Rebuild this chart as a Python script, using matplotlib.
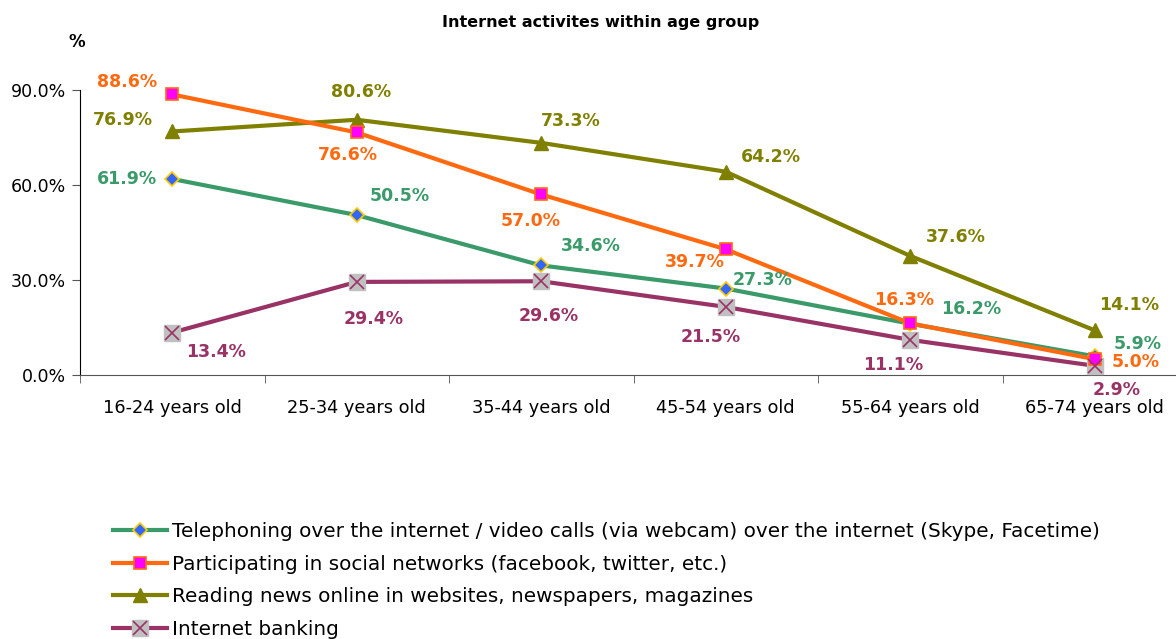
import matplotlib.pyplot as plt
import matplotlib.lines as mlines
import numpy as np

plt.rcParams['font.family'] = ['DejaVu Sans']

ages = ['16-24 years old', '25-34 years old', '35-44 years old',
        '45-54 years old', '55-64 years old', '65-74 years old']
calls = [61.9, 50.5, 34.6, 27.3, 16.2, 5.9]
social = [88.6, 76.6, 57.0, 39.7, 16.3, 5.0]
news = [76.9, 80.6, 73.3, 64.2, 37.6, 14.1]
banking = [13.4, 29.4, 29.6, 21.5, 11.1, 2.9]
names = ['Telephoning over the internet / video calls (via webcam) over the internet (Skype, Facetime)',
         'Participating in social networks (facebook, twitter, etc.)',
         'Reading news online in websites, newspapers, magazines',
         'Internet banking']

# label offsets in pixels (dx, dy) for each point
off_calls = [(-45, 0), (43, 19), (50, 19), (37, 9), (61, 15), (43, 12)]
off_social = [(-45, 12), (-9, -23), (-11, -26), (-31, -13), (-6, 23), (41, -3)]
off_news = [(-49, 11), (4, 28), (30, 22), (45, 15), (46, 19), (34, 25)]
off_bank = [(44, -19), (17, -37), (7, -35), (-15, -30), (-17, -25), (22, -24)]

fig = plt.figure(figsize=(11.76, 6.39), dpi=100)
ax = fig.add_axes([80 / 1176, 1 - 375 / 639, 1107 / 1176, 285 / 639])
x = np.arange(len(ages))

green = '#3a9a6a'
orange = '#ff6a10'
olive = '#808000'
maroon = '#993366'

l1, = ax.plot(x, calls, color=green, lw=3, marker='D', ms=7,
              mfc='#3366ff', mec='#ffcc00', mew=1.2, clip_on=False, zorder=3)
l2, = ax.plot(x, social, color=orange, lw=3, marker='s', ms=9,
              mfc='#ff00ff', mec=orange, mew=1.2, clip_on=False, zorder=4)
l3, = ax.plot(x, news, color=olive, lw=3, marker='^', ms=10,
              mfc=olive, mec=olive, clip_on=False, zorder=3)
l4, = ax.plot(x, banking, color=maroon, lw=3, marker='s', ms=12,
              mfc='#c0c0c0', mec='#c0c0c0', clip_on=False, zorder=3)
ax.plot(x, banking, ls='none', marker='x', ms=10, mec=maroon, mew=1.2,
        clip_on=False, zorder=5)

for vals, offs, col in [(calls, off_calls, green), (social, off_social, orange),
                        (news, off_news, olive), (banking, off_bank, maroon)]:
    for i, v in enumerate(vals):
        ax.annotate(f'{v:.1f}%', (x[i], v), xytext=offs[i],
                    textcoords='offset pixels', ha='center', va='center',
                    color=col, fontsize=12.5, fontweight='bold',
                    annotation_clip=False, zorder=6)

ax.set_xlim(-0.5, 5.5)
ax.set_ylim(0, 90)
ax.set_yticks([0, 30, 60, 90])
ax.set_yticklabels(['0.0%', '30.0%', '60.0%', '90.0%'], fontsize=12.5)
ax.set_xticks(x)
ax.set_xticklabels(ages, fontsize=12.8)
ax.set_xticks(np.arange(-0.5, 6, 1), minor=True)
ax.tick_params(axis='x', which='major', length=0, pad=17)
ax.tick_params(axis='x', which='minor', length=6, color='#555555')
ax.tick_params(axis='y', length=6, color='#555555', pad=4)
ax.spines['top'].set_visible(False)
ax.spines['right'].set_visible(False)
ax.spines['bottom'].set_color('#555555')

fig.text(601 / 1176, 1 - 22 / 639, 'Internet activites within age group',
         ha='center', va='center', fontsize=11.5, fontweight='bold')
fig.text(77 / 1176, 1 - 42 / 639, '%', ha='center', va='center',
         fontsize=12, fontweight='bold')

h4 = (l4, mlines.Line2D([], [], ls='none', marker='x', ms=10, mec=maroon, mew=1.2))
fig.legend([l1, l2, l3, h4], names, loc='upper left', frameon=False,
           bbox_to_anchor=(105 / 1176, 1 - 514 / 639), fontsize=14.4,
           handlelength=2.7, labelspacing=0.68, handletextpad=0.25,
           borderaxespad=0)

fig.savefig('out.png', dpi=100)
